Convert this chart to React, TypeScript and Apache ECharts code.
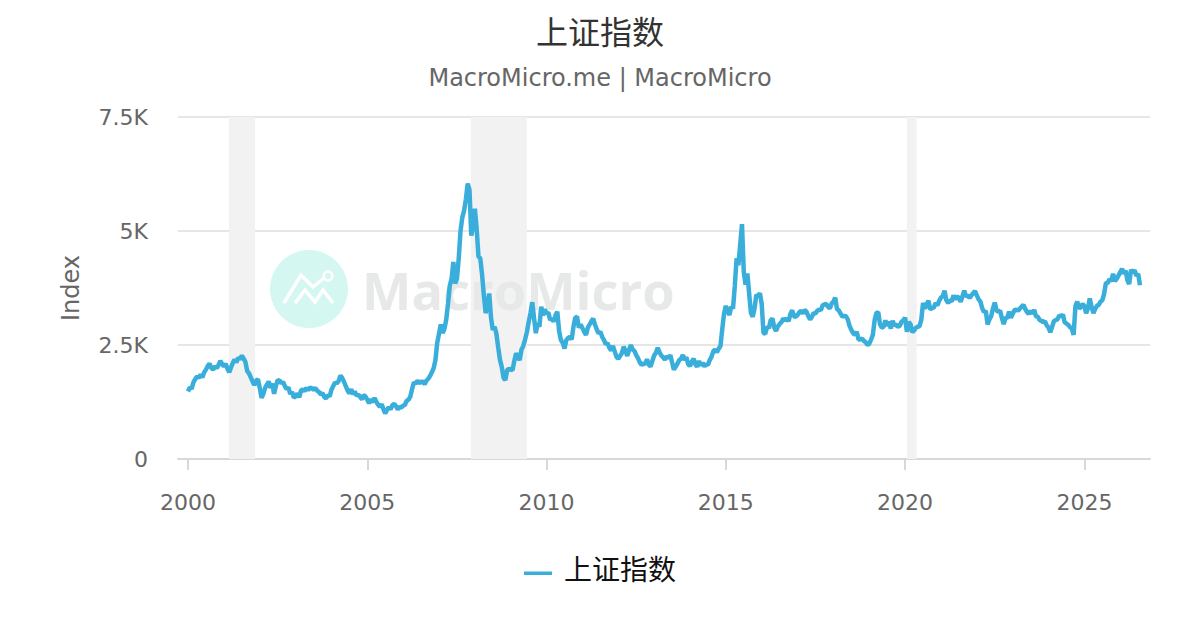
import React, { useEffect, useRef } from "react";
import * as echarts from "echarts";

const TITLE = "上证指数";
const SUBTITLE = "MacroMicro.me | MacroMicro";
const SERIES_NAME = "上证指数";
const Y_AXIS_NAME = "Index";
const WATERMARK = "MacroMicro";
const CJK = '"Noto Sans CJK SC", "DejaVu Sans", sans-serif';
const LATIN = '"DejaVu Sans", sans-serif';

// Twenty evenly spaced readings per calendar year (index points).
const y2000 = [1480,1570,1540,1680,1750,1810,1780,1850,1790,1900,1960,2040,2090,2000,1960,2030,1990,2060,2150,2080];
const y2001 = [2030,2090,1980,1900,2010,2110,2180,2120,2220,2190,2270,2200,2130,1930,1880,1790,1700,1620,1720,1750];
const y2002 = [1560,1340,1430,1560,1630,1700,1560,1650,1430,1600,1730,1720,1660,1690,1600,1530,1570,1430,1470,1350];
const y2003 = [1370,1440,1350,1500,1530,1490,1560,1510,1570,1550,1520,1560,1500,1470,1420,1440,1360,1330,1400,1370];
const y2004 = [1520,1600,1680,1660,1710,1830,1780,1690,1600,1500,1440,1530,1420,1480,1390,1410,1360,1310,1400,1370];
const y2005 = [1300,1220,1310,1250,1340,1260,1190,1150,1200,1090,1000,1080,1130,1090,1180,1210,1160,1090,1140,1130];
const y2006 = [1170,1190,1280,1300,1370,1540,1680,1650,1720,1660,1690,1700,1640,1720,1760,1820,1900,1990,2170,2550];
const y2007 = [2750,2950,2760,2850,3050,3400,3800,3950,4320,3850,3950,4400,5000,5300,5450,5700,6040,5900,4900,5100];
const y2008 = [5490,5050,4440,4400,4050,3600,3200,3350,3630,3100,2830,2900,2750,2450,2180,2020,1780,1730,1950,1980];
const y2009 = [1960,1950,2150,2320,2240,2170,2400,2480,2620,2780,3000,3200,3440,3100,2760,2980,2900,3340,3150,3280];
const y2010 = [3190,3210,3050,3080,3010,3150,3230,2800,2610,2550,2420,2610,2650,2680,2620,2900,3100,3120,2880,2950];
const y2011 = [2870,2790,2720,2880,2950,3020,3080,2950,2840,2760,2790,2680,2610,2520,2540,2440,2380,2480,2360,2240];
const y2012 = [2200,2260,2320,2460,2380,2260,2390,2500,2400,2370,2280,2210,2120,2060,2100,2080,2190,2070,2030,2150];
const y2013 = [2270,2330,2440,2340,2270,2230,2180,2250,2210,2280,2120,1960,2020,2090,2170,2200,2280,2170,2230,2080];
const y2014 = [2040,2130,2200,2080,2020,2150,2050,2110,2030,2080,2060,2170,2240,2360,2400,2340,2420,2480,2850,3190];
const y2015 = [3360,3230,3160,3340,3300,3800,4400,4250,4700,5150,4100,3820,4070,3630,3200,3120,3300,3600,3570,3640];
const y2016 = [3400,2760,2750,2900,2870,3040,3080,2880,2810,2910,2960,3000,3080,3040,3080,3020,3180,3260,3130,3120];
const y2017 = [3160,3220,3250,3190,3270,3230,3130,3060,3120,3200,3190,3250,3280,3260,3370,3390,3400,3340,3300,3410];
const y2018 = [3450,3540,3290,3260,3190,3120,3140,3130,3060,2920,2830,2760,2720,2790,2620,2620,2640,2590,2560,2500];
const y2019 = [2530,2620,2720,3050,3200,3220,2950,2880,2900,3040,2920,3010,2860,3030,2930,2950,2900,2920,3010,3040];
const y2020 = [3100,2790,3000,2960,2780,2820,2880,2900,2910,3050,3420,3300,3380,3470,3280,3310,3320,3420,3370,3470];
const y2021 = [3540,3570,3690,3480,3420,3480,3460,3590,3500,3570,3520,3450,3570,3690,3560,3590,3530,3590,3640,3680];
const y2022 = [3590,3500,3450,3310,3220,3250,2950,3060,3130,3300,3430,3260,3230,3250,3090,2960,3100,3090,3230,3100];
const y2023 = [3180,3260,3280,3250,3300,3340,3380,3290,3220,3180,3250,3190,3270,3130,3120,3050,3030,3000,3020,2930];
const y2024 = [2880,2780,2900,3020,3050,3060,3150,3120,3170,3000,2970,2940,2890,2860,2720,3350,3450,3300,3330,3400];
const y2025 = [3350,3200,3300,3520,3350,3200,3290,3360,3380,3450,3480,3620,3860,3860,3940,3900,4060,3900,3950,4020];
const y2026 = [4100,4170,4060,4130,3920,3840,4150,4090,4140,4020,4060,3810];

const yearlySeries = [
  y2000, y2001, y2002, y2003, y2004, y2005, y2006, y2007, y2008, y2009, y2010, y2011, y2012, y2013,
  y2014, y2015, y2016, y2017, y2018, y2019, y2020, y2021, y2022, y2023, y2024, y2025, y2026,
];
const firstYear = 2000;
const readingsPerYear = 20;

const xTickYears = [2000, 2005, 2010, 2015, 2020, 2025];
const yTickValues = [0, 2500, 5000, 7500];
const yTickLabels = ["0", "2.5K", "5K", "7.5K"];
const recessions = [
  [2001.14, 2001.87],
  [2007.89, 2009.45],
  [2020.05, 2020.32],
];
const xRange = [1999.72, 2026.83];

const lineData = yearlySeries.flatMap((values, yi) =>
  values.map((v, i) => [firstYear + yi + i / readingsPerYear, v])
);

export default function App() {
  const ref = useRef<HTMLDivElement>(null);
  useEffect(() => {
    if (!ref.current) return;
    const chart = echarts.init(ref.current, undefined, { renderer: "svg" });
    chart.setOption({
      animation: false,
      backgroundColor: "#ffffff",
      title: {
        text: TITLE,
        subtext: SUBTITLE,
        left: "center",
        top: 9,
        itemGap: 20,
        textStyle: { fontFamily: CJK, fontSize: 32, fontWeight: "normal", color: "#333333" },
        subtextStyle: { fontFamily: LATIN, fontSize: 24, color: "#666666" },
      },
      grid: { left: 178, right: 50, top: 117, bottom: 171, containLabel: false },
      xAxis: {
        type: "value",
        min: xRange[0],
        max: xRange[1],
        splitLine: { show: false },
        axisLine: { show: true, lineStyle: { color: "#d8d8d8", width: 2 } },
        axisTick: {
          show: true,
          length: 11,
          lineStyle: { color: "#d8d8d8", width: 2 },
          customValues: xTickYears,
        },
        axisLabel: {
          color: "#666666",
          fontFamily: LATIN,
          fontSize: 22,
          margin: 32,
          customValues: xTickYears,
          formatter: (v: number) => String(v),
        },
      },
      yAxis: {
        type: "value",
        min: 0,
        max: 7500,
        interval: 2500,
        name: Y_AXIS_NAME,
        nameLocation: "middle",
        nameGap: 95,
        nameTextStyle: { fontFamily: LATIN, fontSize: 24, color: "#666666" },
        axisLine: { show: false },
        axisTick: { show: false },
        splitLine: { show: true, lineStyle: { color: "#e6e6e6", width: 2 } },
        axisLabel: {
          color: "#666666",
          fontFamily: LATIN,
          fontSize: 22,
          margin: 30,
          formatter: (v: number) => yTickLabels[yTickValues.indexOf(v)] ?? String(v),
        },
      },
      legend: {
        data: [SERIES_NAME],
        left: "center",
        top: 549,
        icon: "path://M0 0H0.1V0.1H0Z M0 12H32V16H0Z",
        itemWidth: 32,
        itemHeight: 14,
        itemGap: 10,
        textStyle: { fontFamily: CJK, fontSize: 28, color: "#111111", padding: [0, 0, 0, 5] },
      },
      graphic: [
        { type: "circle", z: 1.5, silent: true, shape: { cx: 309, cy: 289, r: 39 }, style: { fill: "#d5f7f1" } },
        {
          type: "polyline", z: 1.6, silent: true,
          shape: { points: [[284, 303], [301, 275], [313, 287], [324, 278]] },
          style: { fill: "none", stroke: "#ffffff", lineWidth: 3.5 },
        },
        {
          type: "polyline", z: 1.6, silent: true,
          shape: { points: [[295, 303], [305, 290], [315, 302], [323, 290], [333, 303]] },
          style: { fill: "none", stroke: "#ffffff", lineWidth: 3.5 },
        },
        { type: "circle", z: 1.6, silent: true, shape: { cx: 328, cy: 276, r: 4.5 }, style: { fill: "#d5f7f1", stroke: "#ffffff", lineWidth: 2.5 } },
        {
          type: "text", z: 1.5, silent: true, x: 362, y: 289,
          style: {
            text: WATERMARK,
            fontFamily: '"Open Sans", sans-serif',
            fontWeight: "bold",
            fontSize: 52.4,
            fill: "#e7e8e8",
            verticalAlign: "middle",
            align: "left",
          },
        },
      ],
      series: [
        {
          name: SERIES_NAME,
          type: "line",
          data: lineData,
          showSymbol: false,
          symbol: "none",
          lineStyle: { color: "#3aaedb", width: 4.5 },
          itemStyle: { color: "#3aaedb" },
          markArea: {
            silent: true,
            z: 1,
            itemStyle: { color: "#f2f2f2" },
            data: recessions.map(([a, b]) => [{ xAxis: a }, { xAxis: b }]),
          },
        },
      ],
    });
    return () => chart.dispose();
  }, []);
  return <div ref={ref} style={{ position: "fixed", left: 0, top: 0, width: 1200, height: 630 }} />;
}
